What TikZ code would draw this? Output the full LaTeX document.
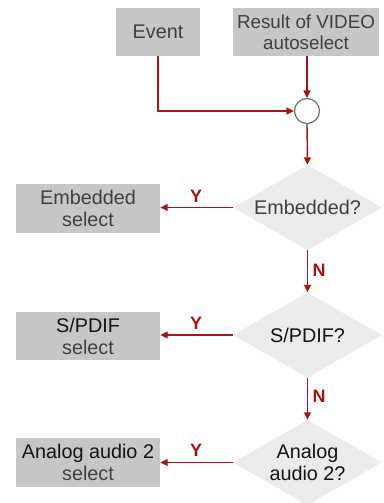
\documentclass[tikz,border=0pt]{standalone}
\usepackage{fontspec}
\setmainfont{Liberation Sans}
\usetikzlibrary{shapes.geometric,arrows.meta}
\definecolor{boxgray}{HTML}{C6C6C6}
\definecolor{diagray}{HTML}{EBEBEB}
\definecolor{txtgray}{HTML}{404040}
\definecolor{txtblack}{HTML}{141414}
\definecolor{arrred}{HTML}{A31515}
\definecolor{circgray}{HTML}{707070}
\begin{document}
\begin{tikzpicture}[x=1pt,y=-1pt,
  every node/.style={font=\fontsize{19.8}{22}\selectfont},
  gbox/.style={fill=boxgray,draw=none,inner sep=0,minimum width=#1,minimum height=48.5pt,text=txtgray,align=center},
  gbox/.default=144pt,
  dia/.style={diamond,fill=diagray,draw=none,inner sep=0,minimum width=149pt,minimum height=85pt},
  dtxt/.style={align=center,inner sep=0},
  lab/.style={font=\fontsize{18}{20}\selectfont\bfseries,text=arrred,inner sep=0},
  arr/.style={draw=arrred,line width=1.4pt,-{Triangle[length=7.5pt,width=7pt]}}
]
\useasboundingbox (0,0) rectangle (383,503);
% top boxes
\node[gbox=84pt] (ev) at (158,32) {Event};
\node[gbox=146pt,font=\fontsize{18.8}{21}\selectfont] (res) at (306,32) {Result of VIDEO\\autoselect};
% merge circle
\node[circle,draw=circgray,line width=1.2pt,fill=white,minimum size=25pt,inner sep=0] (c) at (307,111) {};
% diamonds
\node[dia] (d1) at (307.5,207.5) {};
\node[dtxt,text=txtgray] (t1) at (d1) {Embedded?};
\node[dia] (d2) at (307.5,335) {};
\node[dtxt,text=txtblack] (t2) at (d2) {S/PDIF?};
\node[dia] (d3) at (307.5,462.5) {};
\node[dtxt,text=txtblack] (t3) at (d3) {Analog\\audio 2?};
% left boxes
\node[gbox] (s1) at (88,208.5) {Embedded\\select};
\node[gbox] (s2) at (88,336) {\textcolor{txtblack}{S/PDIF}\\select};
\node[gbox] (s3) at (88,462.5) {\textcolor{txtblack}{Analog audio 2}\\select};
% connectors
\draw[arr] (ev.south) |- (c.west);
\draw[arr] (res.south -| c.north) -- (c.north);
\draw[arr] (c.south) -- (d1.north);
\draw[arr] (d1.west) -- (s1.east |- d1.west);
\draw[arr] (d1.south) -- (d2.north);
\draw[arr] (d2.west) -- (s2.east |- d2.west);
\draw[arr] (d2.south) -- (d3.north);
\draw[arr] (d3.west) -- (s3.east |- d3.west);
% labels
\node[lab] (y1) at (196,196.5) {Y};
\node[lab] (y2) at (196,323.5) {Y};
\node[lab] (y3) at (196,450.5) {Y};
\node[lab] (n1) at (319,270.5) {N};
\node[lab] (n2) at (319,396) {N};
\end{tikzpicture}
\end{document}
